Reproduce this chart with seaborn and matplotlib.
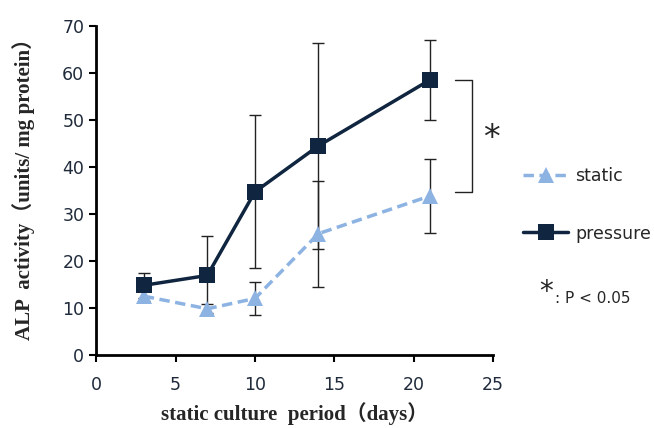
import pandas as pd
import matplotlib.pyplot as plt
import seaborn as sns

days = [3, 7, 10, 14, 21]
static_mean = [12.5, 9.8, 12.0, 25.8, 33.8]
static_err = [1.0, 1.0, 3.5, 11.3, 7.9]
pressure_mean = [14.8, 16.9, 34.7, 44.5, 58.5]
pressure_err = [2.6, 8.4, 16.3, 22.0, 8.6]

STATIC_C = '#8db3e2'
PRESS_C = '#10253f'


def main():
    df = pd.DataFrame({
        'days': days * 2,
        'alp': static_mean + pressure_mean,
        'group': ['static'] * len(days) + ['pressure'] * len(days),
    })

    sns.set_style('white')
    fig = plt.figure(figsize=(6.54, 4.28), dpi=100)
    ax = fig.add_axes([0.147, 0.171, 0.607, 0.768])

    # error bars first so markers sit on top
    ax.errorbar(days, static_mean, yerr=static_err, fmt='none', ecolor='#222222',
                elinewidth=1, capsize=4, capthick=1, zorder=1)
    ax.errorbar(days, pressure_mean, yerr=pressure_err, fmt='none', ecolor='#222222',
                elinewidth=1, capsize=4, capthick=1, zorder=1)

    sns.lineplot(data=df, x='days', y='alp', hue='group', style='group',
                 palette={'static': STATIC_C, 'pressure': PRESS_C},
                 markers={'static': '^', 'pressure': 's'},
                 dashes={'static': (3, 1.6), 'pressure': ''},
                 markersize=11, markeredgewidth=0, linewidth=2.5, ax=ax, zorder=3)

    ax.set_xlim(0, 25)
    ax.set_ylim(0, 70)
    ax.set_xticks(range(0, 26, 5))
    ax.set_yticks(range(0, 71, 10))
    for s in ['top', 'right']:
        ax.spines[s].set_visible(False)
    for s in ['left', 'bottom']:
        ax.spines[s].set_color('black')
        ax.spines[s].set_linewidth(2)
    ax.tick_params(axis='both', direction='out', length=5, width=1.5, color='black',
                   labelcolor='#1f2a3a', left=True, bottom=True)
    for lbl in ax.get_xticklabels() + ax.get_yticklabels():
        lbl.set_family('DejaVu Sans')
        lbl.set_fontsize(12.5)
    ax.tick_params(axis='x', pad=10)

    lab_font = ['Liberation Serif', 'Noto Sans CJK JP']
    ax.set_xlabel('static culture  period（days）', family=lab_font,
                  fontweight='bold', fontsize=15, labelpad=6)
    ax.set_ylabel('ALP  activity（units/ mg protein）', family=lab_font,
                  fontweight='bold', fontsize=15, labelpad=14)
    ax.yaxis.set_label_coords(-0.155, 0.52)

    # significance bracket
    ax.plot([22.6, 23.65, 23.65, 22.6], [58.5, 58.5, 34.6, 34.6], color='#222222',
            lw=1, clip_on=False)
    ax.text(24.9, 46.0, '*', fontsize=24, ha='center', va='center', family='DejaVu Sans')

    ax.get_legend().remove()
    h, l = ax.get_legend_handles_labels()
    fig.legend(h, l, loc='center left', bbox_to_anchor=(0.776, 0.522), frameon=False,
               fontsize=12.5, labelspacing=2.3, handlelength=2.6, handletextpad=0.4)
    fig.text(0.835, 0.318, '*', fontsize=20, ha='center', va='center')
    fig.text(0.848, 0.302, ': P < 0.05', fontsize=11, ha='left', va='center')

    fig.savefig('out.png', dpi=100)


if __name__ == "__main__":
    main()
